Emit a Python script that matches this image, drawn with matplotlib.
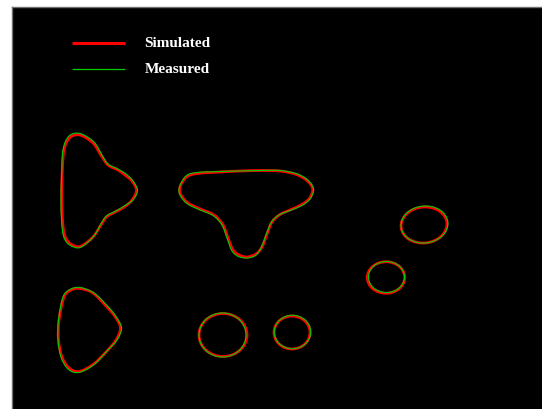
import numpy as np
import matplotlib
matplotlib.use("Agg")
import matplotlib.pyplot as plt
from matplotlib.path import Path
from matplotlib.patches import PathPatch, Ellipse

# Contour outlines in image coordinates (x to the right, y downwards)
sim_lobe = [(80, 135), (93, 143), (101.5, 156), (108, 165), (118, 170), (125, 175),
            (132, 181), (136.5, 190.5), (132, 200), (125, 206.5), (116, 211.5),
            (107, 216.5), (101.5, 224), (93, 237), (80, 246.5), (70, 243.5),
            (64.5, 235), (62.5, 220), (61.7, 200), (62, 178), (64, 150), (70, 137.5)]
meas_lobe = [(80, 133.5), (94, 142), (102, 155), (108, 164), (118, 169), (126, 174),
             (133, 181), (137.5, 190.5), (133, 200), (125, 205.5), (116, 211),
             (107, 215.5), (102, 222), (93.5, 236.5), (80, 247.5), (69, 244.5),
             (63.5, 236), (61.5, 220), (61, 200), (61.5, 178), (63, 150), (69, 136)]

sim_tee = [(186.5, 177), (197, 173.5), (220, 172), (240, 171), (260, 170.5), (280, 171),
           (295, 174), (305, 179), (311, 185), (312.7, 191), (309, 199), (301, 205),
           (290, 210), (280, 214.5), (272, 222), (267, 234), (262, 247), (256, 254),
           (247, 257), (239, 255), (233, 250), (228, 238), (223, 225), (214, 215),
           (200, 209), (188, 203), (181, 195), (180, 187)]
meas_tee = [(186, 176), (197, 172.5), (220, 171.5), (240, 171), (260, 170.5), (280, 170.5),
            (296, 173.5), (306, 178.5), (312, 185), (313.5, 191), (310, 199), (302, 205.5),
            (290, 210.5), (279, 215), (271.5, 222), (266, 235), (261, 248), (255.5, 255.5),
            (247, 258), (238.5, 256.5), (232, 251), (227, 238), (222, 225), (213, 215.5),
            (199, 209.5), (187, 203.5), (180, 195), (179.5, 187)]

sim_tri = [(80, 288.5), (93, 293), (106.5, 306.5), (115, 316.5), (120.5, 328),
           (116, 340), (106.5, 351.5), (93, 364.5), (79, 371.5), (69, 368),
           (62, 357), (58.5, 340), (59, 320), (64, 297), (71, 290)]
meas_tri = [(80, 287.5), (94, 293), (107.5, 306), (116, 316.5), (121.5, 328),
            (117, 340), (107, 351), (93.5, 365), (78.5, 372.5), (68, 369),
            (61, 357), (58, 340), (58.5, 320), (63, 297), (70, 289.5)]

# Elliptical features: centre x, centre y, width, height, tilt
sim_ellipses = [(424, 225, 46, 36, -6), (386, 277.5, 37.5, 31.5, 0),
                (223, 335, 48, 43, 0), (292, 332.5, 36, 33, 0)]
meas_ellipses = [(424.5, 224.5, 47, 37, -6), (386.5, 277, 36, 31, 0),
                 (222.5, 335, 47, 44, 0), (292.5, 332, 36.5, 33.5, 0)]

legend_labels = ["Simulated", "Measured"]
sim_color = "#ff0000"
meas_color = "#00cc00"


def closed_spline(points):
    """Closed Catmull-Rom outline expressed as cubic Bezier path segments."""
    p = np.asarray(points, dtype=float)
    n = len(p)
    verts = [p[0]]
    codes = [Path.MOVETO]
    for i in range(n):
        p0, p1, p2, p3 = p[i - 1], p[i], p[(i + 1) % n], p[(i + 2) % n]
        c1 = p1 + (p2 - p0) / 6.0
        c2 = p2 - (p3 - p1) / 6.0
        verts += [c1, c2, p2]
        codes += [Path.CURVE4] * 3
    return Path(verts, codes)


fig = plt.figure(figsize=(5.42, 4.09), dpi=100)
fig.patch.set_facecolor("white")
ax = fig.add_axes([12 / 542, 0, 530 / 542, 402 / 409])
ax.set_facecolor("black")
ax.set_xlim(12, 542)
ax.set_ylim(409, 7)
ax.set_xticks([])
ax.set_yticks([])
for side, s in ax.spines.items():
    s.set_color("#707070")
    s.set_linewidth(1.0)
    s.set_visible(side in ("left", "top"))

for outline in (sim_lobe, sim_tee, sim_tri):
    ax.add_patch(PathPatch(closed_spline(outline), fill=False,
                           edgecolor=sim_color, linewidth=2.0))
for cx, cy, w, h, a in sim_ellipses:
    ax.add_patch(Ellipse((cx, cy), w, h, angle=a, fill=False,
                         edgecolor=sim_color, linewidth=2.0))

for outline in (meas_lobe, meas_tee, meas_tri):
    ax.add_patch(PathPatch(closed_spline(outline), fill=False,
                           edgecolor=meas_color, linewidth=0.8))
for cx, cy, w, h, a in meas_ellipses:
    ax.add_patch(Ellipse((cx, cy), w, h, angle=a, fill=False,
                         edgecolor=meas_color, linewidth=0.8))

# Legend drawn by hand: sample line plus centred label
ax.plot([72, 125], [43.5, 43.5], color=sim_color, linewidth=2.2, solid_capstyle="butt")
ax.plot([72, 125], [69.5, 69.5], color=meas_color, linewidth=0.9, solid_capstyle="butt")
for label, yy in zip(legend_labels, [43.5, 69.5]):
    ax.text(177.5, yy, label, color="white", fontsize=11, family="Liberation Serif",
            fontweight="bold", ha="center", va="center")

fig.savefig("out.png", dpi=100, facecolor="white")
